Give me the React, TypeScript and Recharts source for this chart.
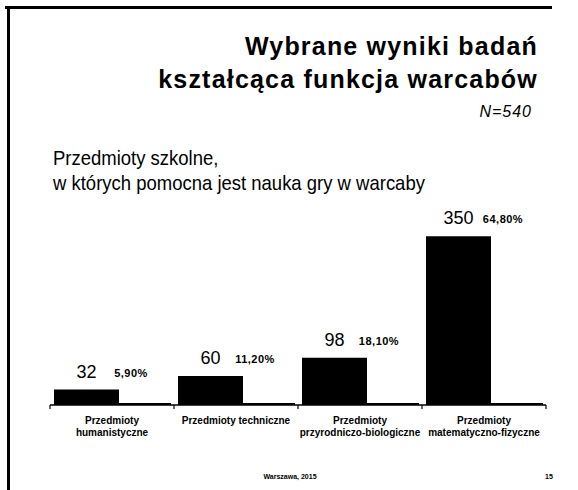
import { BarChart, Bar, XAxis, YAxis, LabelList } from "recharts";

// dane z wykresu
const categories = [
  "Przedmioty\nhumanistyczne",
  "Przedmioty techniczne",
  "Przedmioty\nprzyrodniczo-biologiczne",
  "Przedmioty\nmatematyczno-fizyczne",
];
const counts = [32, 60, 98, 350];
const shares = [0.059, 0.112, 0.181, 0.648];
const shareLabels = ["5,90%", "11,20%", "18,10%", "64,80%"];

const chartData = categories.map((name, i) => ({
  name,
  count: counts[i],
  share: shares[i],
  shareLabel: shareLabels[i],
}));

const NUM_FONT = "'Liberation Sans', Arial, sans-serif";

function CategoryTick(props: any) {
  const { x, y, payload, index } = props;
  const lines = String(payload.value).split("\n");
  const half = payload.offset || 0;
  return (
    <g>
      <line x1={x - half} x2={x - half} y1={y - 8} y2={y - 4} stroke="#000" strokeWidth={1.2} />
      {index === categories.length - 1 && (
        <line x1={x + half} x2={x + half} y1={y - 8} y2={y - 4} stroke="#000" strokeWidth={1.2} />
      )}
      {lines.map((line, i) => (
        <text
          key={i}
          x={x}
          y={y + 11 + i * 12}
          textAnchor="middle"
          fontFamily={NUM_FONT}
          fontWeight="bold"
          fontSize={10}
          fill="#000"
        >
          {line}
        </text>
      ))}
    </g>
  );
}

function CountLabel(props: any) {
  const { x, y, width, value } = props;
  return (
    <text x={x + width / 2} y={y - 12} textAnchor="middle" fontFamily={NUM_FONT} fontSize={18} fill="#000">
      {value}
    </text>
  );
}

function ShareLabel(props: any) {
  const { x, y, width, value } = props;
  return (
    <text
      x={x + width + 12}
      y={y - 13}
      textAnchor="middle"
      fontFamily={NUM_FONT}
      fontWeight="bold"
      fontSize={11}
      letterSpacing={0.5}
      fill="#000"
    >
      {value}
    </text>
  );
}

export default function App() {
  return (
    <div style={{ position: "absolute", left: 0, top: 0, width: 578, height: 490, background: "#fff" }}>
      <BarChart
        width={578}
        height={490}
        data={chartData}
        margin={{ top: 212, right: 32, left: 50, bottom: 35 }}
        barGap={0}
        barCategoryGap={0}
      >
        <XAxis
          dataKey="name"
          interval={0}
          height={50}
          axisLine={{ stroke: "#000", strokeWidth: 1.5 }}
          tickLine={false}
          tick={<CategoryTick />}
        />
        <YAxis hide domain={[0, 400]} />
        <Bar dataKey="count" fill="#000" barSize={65} isAnimationActive={false}>
          <LabelList dataKey="count" content={<CountLabel />} />
          <LabelList dataKey="shareLabel" content={<ShareLabel />} />
        </Bar>
        <Bar dataKey="share" fill="#000" barSize={52} minPointSize={2} isAnimationActive={false} />
      </BarChart>

      <svg
        width={578}
        height={490}
        style={{ position: "absolute", left: 0, top: 0, pointerEvents: "none" }}
      >
        {/* ramka slajdu */}
        <line x1={5} x2={552} y1={7.5} y2={7.5} stroke="#000" strokeWidth={3} />
        <line x1={8.5} x2={8.5} y1={6} y2={490} stroke="#000" strokeWidth={3} />

        <g fontFamily={NUM_FONT} fontWeight="bold" fontSize={25} fill="#000" letterSpacing={1.2}>
          <text x={538} y={55} textAnchor="end">Wybrane wyniki badań</text>
          <text x={538} y={88} textAnchor="end">kształcąca funkcja warcabów</text>
        </g>
        <text x={532} y={117} textAnchor="end" fontFamily={NUM_FONT} fontStyle="italic" fontSize={16} letterSpacing={1} fill="#000">
          N=540
        </text>

        <g fontFamily={NUM_FONT} fontSize={20} fill="#000" transform="translate(53,0) scale(0.925,1) translate(-53,0)">
          <text x={53} y={165}>Przedmioty szkolne,</text>
          <text x={53} y={190}>w których pomocna jest nauka gry w warcaby</text>
        </g>

        <text x={290} y={479} textAnchor="middle" fontFamily={NUM_FONT} fontWeight="bold" fontSize={7} fill="#000">
          Warszawa, 2015
        </text>
        <text x={549} y={479} textAnchor="middle" fontFamily={NUM_FONT} fontWeight="bold" fontSize={7} fill="#000">
          15
        </text>
      </svg>
    </div>
  );
}
